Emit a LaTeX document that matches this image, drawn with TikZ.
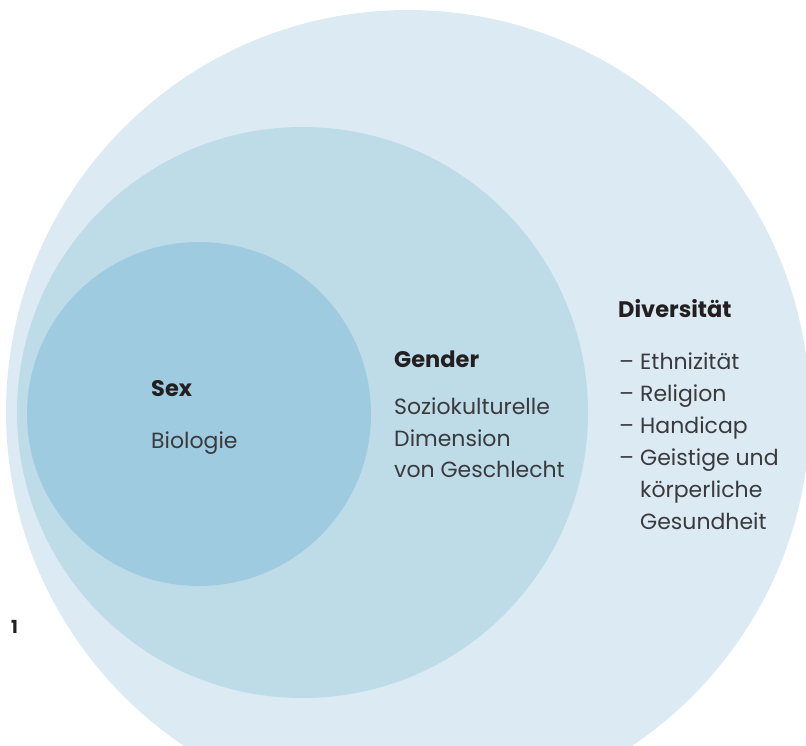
\documentclass[tikz,border=0pt]{standalone}
\usepackage{fontspec}
\setmainfont{Poppins}
\definecolor{ringout}{HTML}{DCEAF3}
\definecolor{ringmid}{HTML}{BEDBE8}
\definecolor{ringin}{HTML}{9FCBE1}
\definecolor{ink}{HTML}{231F20}
\definecolor{inklight}{HTML}{3A3A3C}
\begin{document}
\begin{tikzpicture}[x=1pt,y=-1pt,
  head/.style={anchor=base west,inner sep=0pt,font=\fontsize{22.5}{27}\selectfont\bfseries,text=ink},
  body/.style={anchor=base west,inner sep=0pt,font=\fontsize{22}{27}\selectfont,text=inklight},
  num/.style={anchor=base west,inner sep=0pt,font=\fontsize{18}{21}\selectfont\bfseries,text=ink}]
\useasboundingbox (0,0) rectangle (806,745);
\clip (0,0) rectangle (806,745);
% nested circles
\fill[ringout] (408,412) circle (402);
\fill[ringmid] (302.5,412.5) circle (285.5);
\fill[ringin] (199,414) circle (172);
% Sex
\node[head] (sex) at (151,396) {Sex};
\node[body] (bio) at (151,448) {Biologie};
% Gender
\node[head] (gender) at (394,367) {Gender};
\node[body] (g1) at (394,414) {Soziokulturelle};
\node[body] (g2) at (394,446) {Dimension};
\node[body] (g3) at (394,477) {von Geschlecht};
% Diversitaet
\node[head] (div) at (618,317) {Diversität};
\node[body] (d1dash) at (619,369) {–};
\node[body] (d1) at (640,369) {Ethnizität};
\node[body] (d2dash) at (619,401) {–};
\node[body] (d2) at (640,401) {Religion};
\node[body] (d3dash) at (619,433) {–};
\node[body] (d3) at (640,433) {Handicap};
\node[body] (d4dash) at (619,465) {–};
\node[body] (d4) at (640,465) {Geistige und};
\node[body] (d5) at (640,497) {körperliche};
\node[body] (d6) at (640,529) {Gesundheit};
% figure number
\node[num] (fignum) at (11,633) {1};
\end{tikzpicture}
\end{document}
